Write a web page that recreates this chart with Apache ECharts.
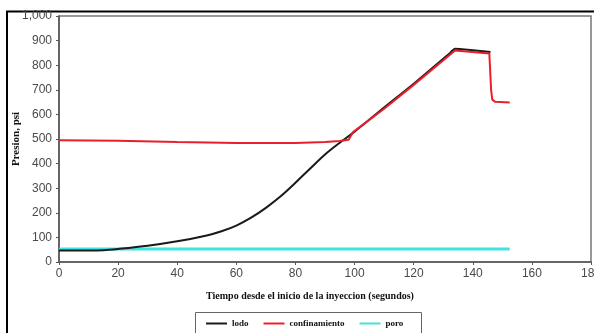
<!DOCTYPE html>
<html><head><meta charset="utf-8">
<script src="https://cdn.jsdelivr.net/npm/echarts@6/dist/echarts.min.js"></script>
<style>html,body{margin:0;padding:0;background:#fff}#c{width:594px;height:333px}</style>
</head><body><div id="c"></div>
<script>
// Data
const lodoT = [0, 10, 15, 20, 30, 40, 50, 55, 60, 65, 70, 75, 80, 85, 90, 95, 100, 110, 120, 132.5, 134, 135.5, 146];
const lodoV = [47, 47, 48, 53, 66, 84, 108, 125, 148, 180, 220, 267, 322, 380, 437, 485, 530, 628, 725, 852, 867, 866, 854];
const confT = [0, 20, 40, 60, 80, 90, 95, 98, 99.5, 110, 120, 134, 145.6, 146.2, 146.6, 147.6, 152.5];
const confV = [495, 493, 488, 484, 484, 488, 492, 497, 528, 623, 720, 860, 848, 700, 660, 651, 648];
const poroT = [0, 152.5];
const poroV = [53, 53];
const seriesNames = ['lodo', 'confinamiento', 'poro'];
const xTitle = 'Tiempo desde el inicio de la inyeccion (segundos)';
const yTitle = 'Presion, psi';

const pairs = (t, v) => t.map((x, i) => [x, v[i]]);
const chart = echarts.init(document.getElementById('c'), null, {renderer: 'canvas'});
const sans = 'Liberation Sans, Arial, sans-serif';
const serif = 'Liberation Serif, Times New Roman, serif';
chart.setOption({
  animation: false,
  backgroundColor: '#fff',
  title: {
    text: xTitle, left: 305, top: 286, textAlign: 'center',
    textStyle: {fontFamily: serif, fontWeight: 'bold', fontSize: 10, color: '#111'}
  },
  grid: {left: 59, right: 3, top: 16, bottom: 71, containLabel: false, outerBoundsMode: 'none',
    show: true, borderColor: '#777', borderWidth: 1.5, backgroundColor: 'transparent'},
  xAxis: {
    type: 'value', min: 0, max: 180, interval: 20,
    axisLine: {lineStyle: {color: '#555', width: 1.5}},
    axisTick: {show: true, length: 3, lineStyle: {color: '#555'}},
    axisLabel: {margin: 6, fontFamily: sans, fontSize: 12, color: '#4a4a4a'},
    splitLine: {show: false}
  },
  yAxis: {
    type: 'value', min: 0, max: 1000, interval: 100,
    name: yTitle, nameLocation: 'middle', nameGap: 37, nameMoveOverlap: false,
    nameTextStyle: {fontFamily: serif, fontWeight: 'bold', fontSize: 11, color: '#111'},
    axisLine: {show: true, lineStyle: {color: '#555', width: 1.5}},
    axisTick: {show: true, length: 3, lineStyle: {color: '#555'}},
    axisLabel: {margin: 7, fontFamily: sans, fontSize: 12, color: '#4a4a4a',
      formatter: v => v >= 1000 ? v.toLocaleString('en-US') : String(v)},
    splitLine: {show: false}
  },
  legend: {
    left: 201, top: 314, itemWidth: 21, itemHeight: 10, itemGap: 15,
    icon: 'path://M0,4 L21,4 L21,6 L0,6 Z',
    textStyle: {fontFamily: serif, fontWeight: 'bold', fontSize: 9, color: '#111'},
    data: seriesNames
  },
  graphic: [
    {type: 'rect', shape: {x: 7, y: 11.5, width: 620, height: 400}, style: {fill: 'none', stroke: '#000', lineWidth: 2}, silent: true},
    {type: 'rect', shape: {x: 195.5, y: 312.5, width: 226, height: 40}, style: {fill: 'none', stroke: '#666', lineWidth: 1}, silent: true}
  ],
  series: [
    {name: seriesNames[2], type: 'line', data: pairs(poroT, poroV), showSymbol: false, symbol: 'none',
      lineStyle: {color: '#3fe3e0', width: 3}, itemStyle: {color: '#3fe3e0'}, z: 1},
    {name: seriesNames[0], type: 'line', data: pairs(lodoT, lodoV), showSymbol: false, symbol: 'none', smooth: 0.3,
      lineStyle: {color: '#1a1a1a', width: 2}, itemStyle: {color: '#1a1a1a'}, z: 2},
    {name: seriesNames[1], type: 'line', data: pairs(confT, confV), showSymbol: false, symbol: 'none',
      lineStyle: {color: '#e8202c', width: 2}, itemStyle: {color: '#e8202c'}, z: 3}
  ]
});
</script></body></html>
